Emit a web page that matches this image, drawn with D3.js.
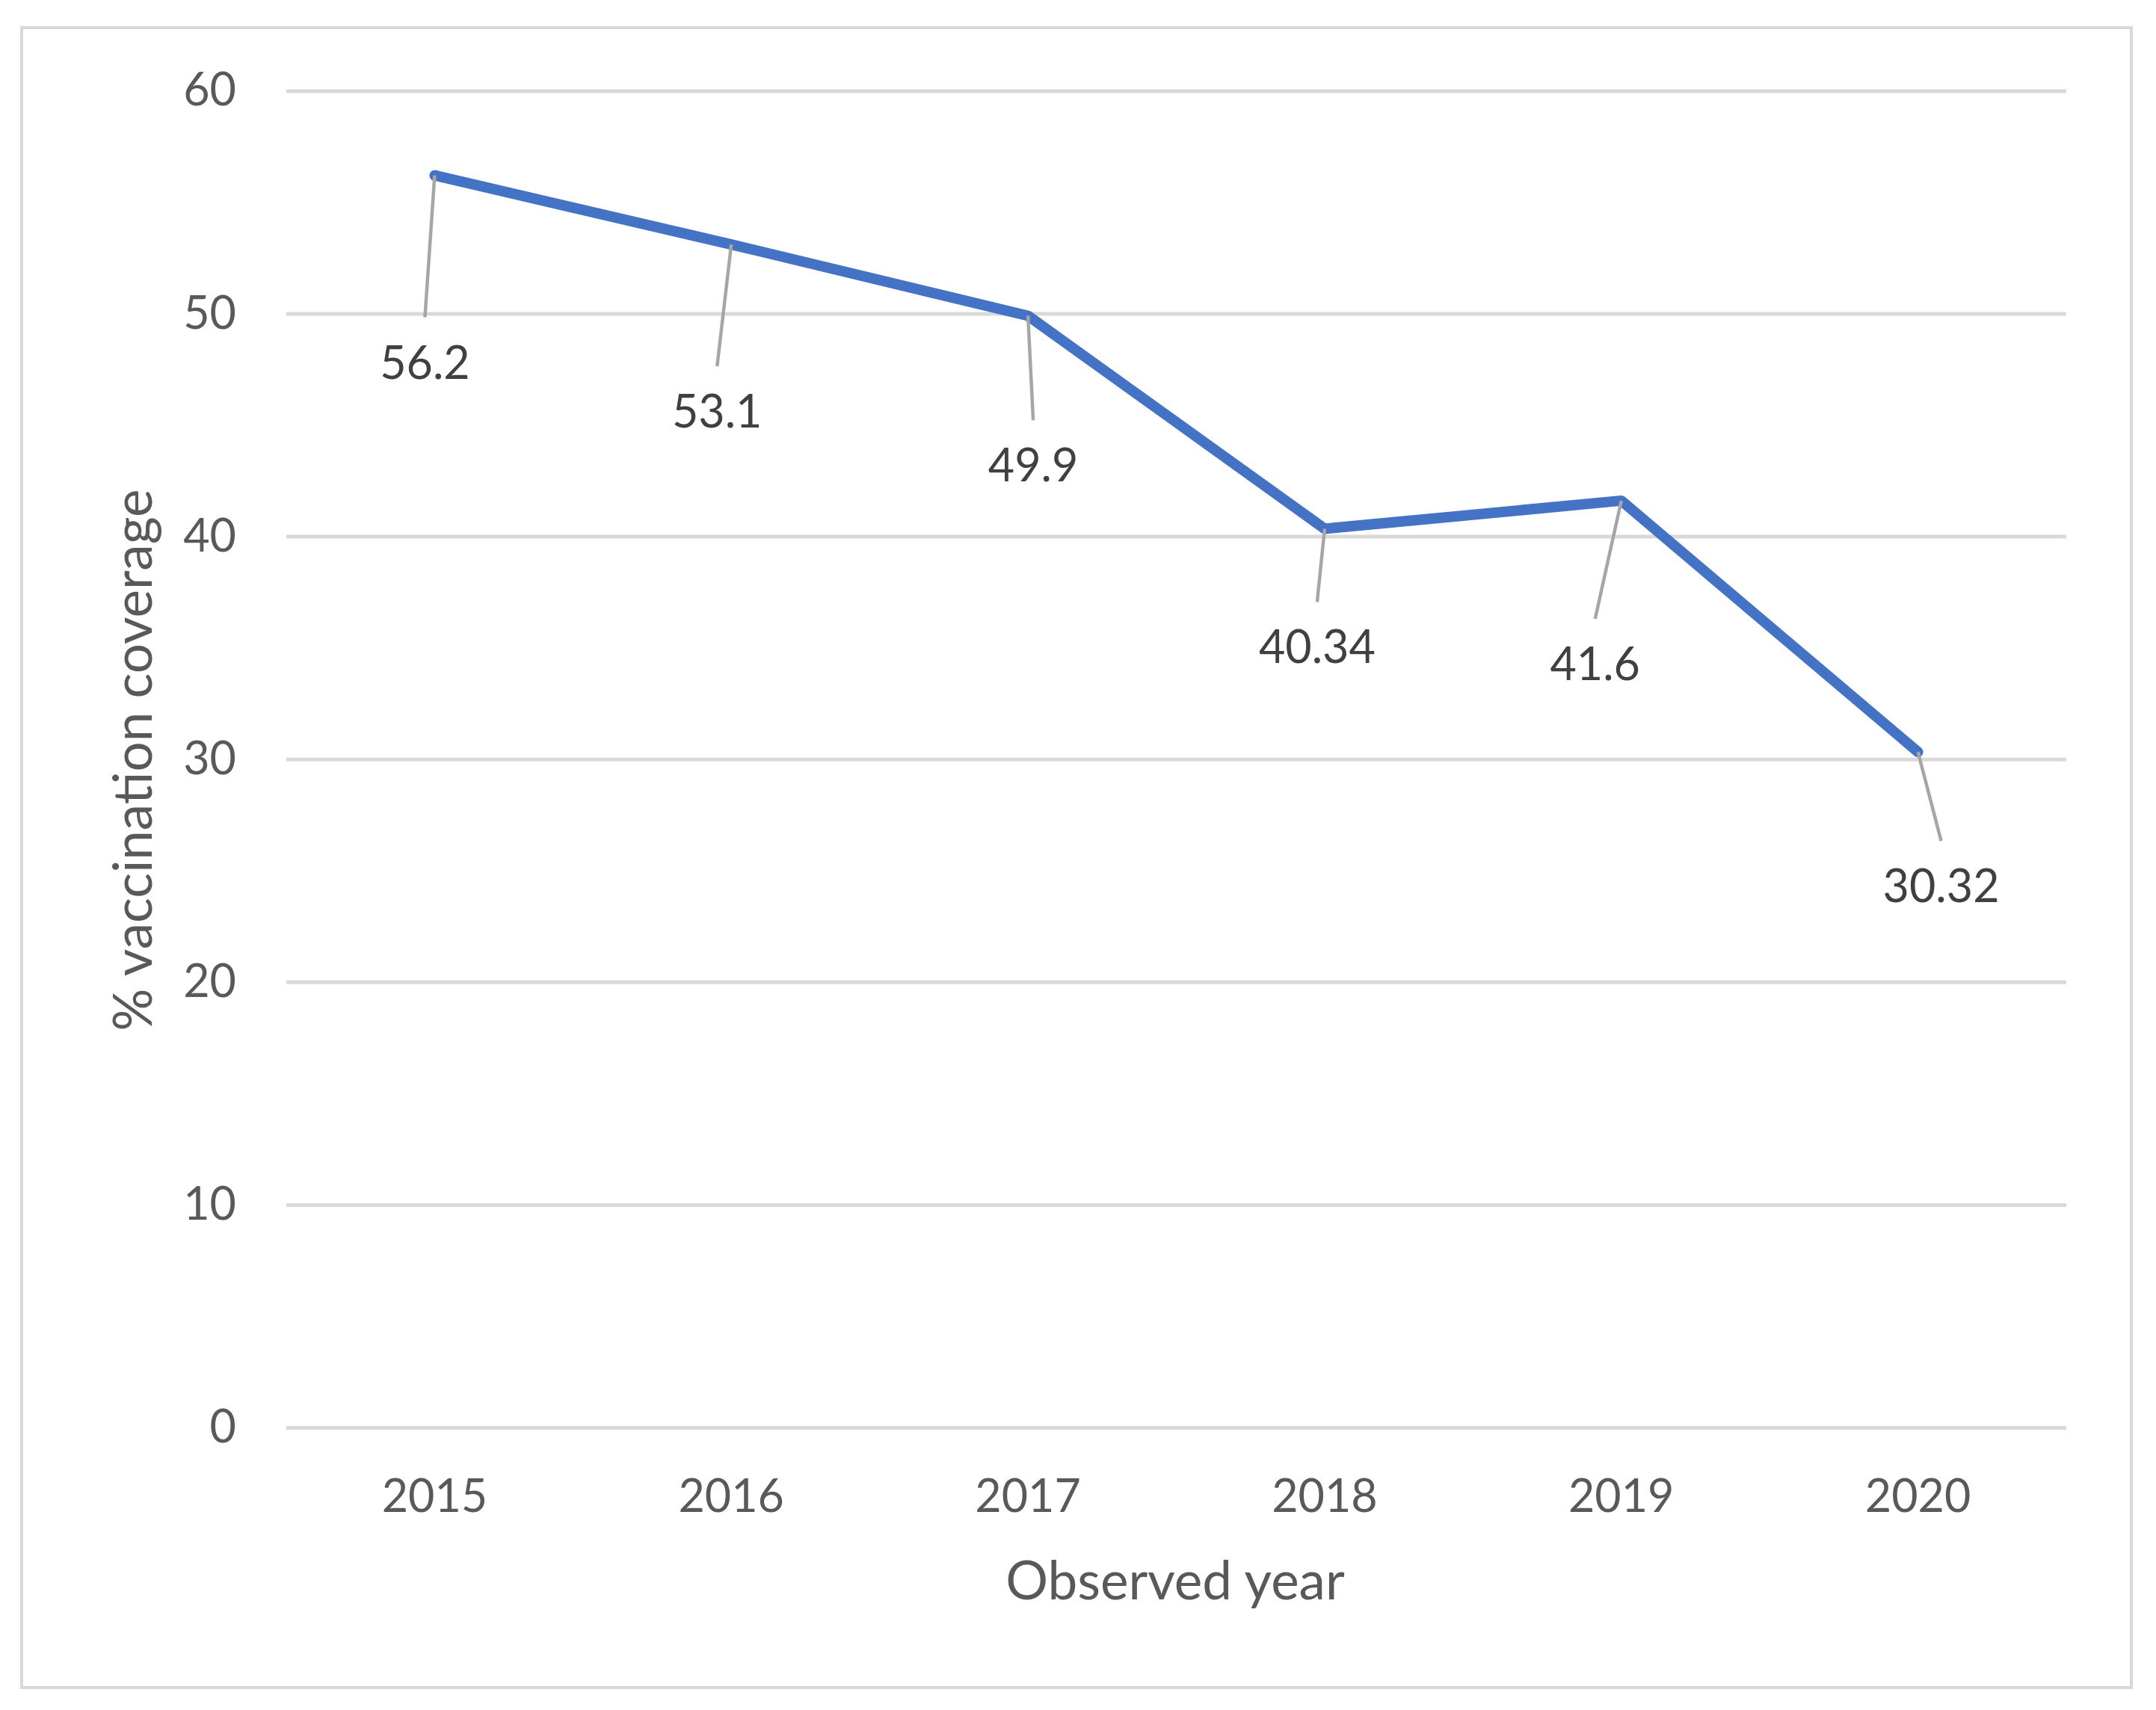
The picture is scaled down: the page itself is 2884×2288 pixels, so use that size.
<!DOCTYPE html>
<html><head><meta charset="utf-8">
<script src="https://cdn.jsdelivr.net/npm/d3@7"></script>
<style>body{margin:0;background:#fff}</style>
</head><body>
<svg id="chart" width="2884" height="2288"></svg>
<script>
// ---- data ----
const years = ["2015", "2016", "2017", "2018", "2019", "2020"];
const coverage = [56.2, 53.1, 49.9, 40.34, 41.6, 30.32];
const valueLabels = ["56.2", "53.1", "49.9", "40.34", "41.6", "30.32"];
const yTicks = [0, 10, 20, 30, 40, 50, 60];
const xTitle = "Observed year";
const yTitle = "% vaccination coverage";

// ---- layout (label placement as in the source, pixels) ----
const labelOffsets = [[-13, 250], [-19, 223], [7, 200], [-10, 158], [-35, 218], [31, 179]];
const FONT = "Lato, 'Open Sans', 'Liberation Sans', sans-serif";

const svg = d3.select("#chart");
svg.append("rect").attr("width", 2884).attr("height", 2288).attr("fill", "#fff");
svg.append("rect").attr("x", 29).attr("y", 37).attr("width", 2822).attr("height", 2221)
  .attr("fill", "none").attr("stroke", "#D9D9D9").attr("stroke-width", 4);

const plotL = 383, plotR = 2764, plotT = 121.4, plotB = 1910;
const x = d3.scaleBand().domain(years).range([plotL, plotR]).paddingInner(0).paddingOuter(0);
const cx = d => x(d) + x.bandwidth() / 2;
const y = d3.scaleLinear().domain([0, 60]).range([plotB, plotT]);

// y axis + gridlines
const gy = svg.append("g").attr("transform", `translate(${plotL},0)`)
  .call(d3.axisLeft(y).tickValues(yTicks).tickSize(-(plotR - plotL)).tickPadding(67).tickFormat(d3.format("d")));
gy.select(".domain").remove();
gy.selectAll(".tick line").attr("stroke", "#D9D9D9").attr("stroke-width", 5);
gy.selectAll(".tick text").attr("fill", "#595959").style("font-family", FONT).style("font-size", "61px");

// x axis
const gx = svg.append("g").attr("transform", `translate(0,${plotB})`)
  .call(d3.axisBottom(x).tickSize(0).tickPadding(70));
gx.select(".domain").remove();
gx.selectAll(".tick text").attr("fill", "#595959").style("font-family", FONT).style("font-size", "61px");

// line
const pts = years.map((yr, i) => ({yr, v: coverage[i], lab: valueLabels[i], off: labelOffsets[i]}));
svg.append("path").datum(pts)
  .attr("d", d3.line().x(d => cx(d.yr)).y(d => y(d.v)))
  .attr("fill", "none").attr("stroke", "#4472C4").attr("stroke-width", 14)
  .attr("stroke-linejoin", "round").attr("stroke-linecap", "round");

// leader lines and labels
const lg = svg.append("g");
lg.selectAll("line").data(pts).join("line")
  .attr("x1", d => cx(d.yr)).attr("y1", d => y(d.v))
  .attr("x2", d => cx(d.yr) + d.off[0]).attr("y2", d => y(d.v) + d.off[1] - 60)
  .attr("stroke", "#A6A6A6").attr("stroke-width", 4.5);
lg.selectAll("text").data(pts).join("text")
  .attr("x", d => cx(d.yr) + d.off[0]).attr("y", d => y(d.v) + d.off[1])
  .attr("dy", "0.36em").attr("text-anchor", "middle")
  .attr("fill", "#404040").style("font-family", FONT).style("font-size", "61px")
  .text(d => d.lab);

// axis titles
svg.append("text").attr("x", 1572).attr("y", 2140).attr("text-anchor", "middle")
  .attr("fill", "#595959").style("font-family", FONT).style("font-size", "71px").text(xTitle);
svg.append("text").attr("transform", "translate(203,1017) rotate(-90)").attr("text-anchor", "middle")
  .attr("fill", "#595959").style("font-family", FONT).style("font-size", "71px").text(yTitle);
</script>
</body></html>
